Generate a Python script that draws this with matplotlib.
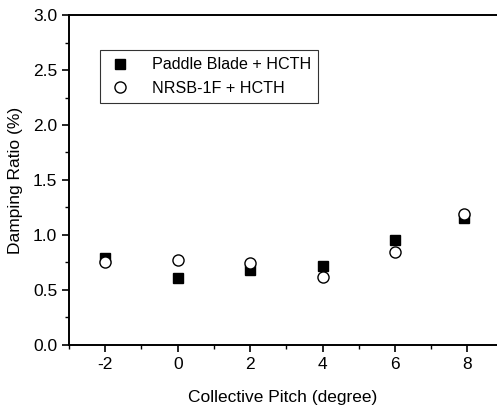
import matplotlib
matplotlib.use("Agg")
from matplotlib import pyplot as plt
from matplotlib.ticker import MultipleLocator

plt.rcParams['font.family'] = ['Liberation Sans', 'DejaVu Sans']
plt.rcParams['axes.unicode_minus'] = False

# collective pitch (degree)
pitch_paddle = [-2, 0, 2, 4, 6, 7.9]
pitch_nrsb = [-2, 0, 2, 4, 6, 7.9]
# damping ratio (%)
damp_paddle = [0.79, 0.61, 0.68, 0.72, 0.955, 1.15]
damp_nrsb = [0.75, 0.77, 0.74, 0.62, 0.84, 1.19]

labels = ["Paddle Blade + HCTH", "NRSB-1F + HCTH"]

fig = plt.figure(figsize=(4.97, 4.09), dpi=100)
ax = fig.add_axes([0.139, 0.157, 0.861, 0.806])

ax.plot(pitch_paddle, damp_paddle, ls='none', marker='s', ms=7.5,
        mfc='black', mec='black', label=labels[0])
ax.plot(pitch_nrsb, damp_nrsb, ls='none', marker='o', ms=8,
        mfc='white', mec='black', mew=1.0, label=labels[1])

ax.set_xlim(-3, 8.82)
ax.set_ylim(0, 3.0)
ax.xaxis.set_major_locator(MultipleLocator(2))
ax.xaxis.set_minor_locator(MultipleLocator(1))
ax.yaxis.set_minor_locator(MultipleLocator(0.25))
ax.set_yticks([0, 0.5, 1.0, 1.5, 2.0, 2.5, 3.0])
ax.set_yticklabels(["0.0", "0.5", "1.0", "1.5", "2.0", "2.5", "3.0"])

ax.spines['right'].set_visible(False)
for s in ['left', 'bottom', 'top']:
    ax.spines[s].set_linewidth(1.4)

ax.tick_params(which='major', direction='out', length=5, width=1.2,
               labelsize=12.5, top=False, right=False)
ax.tick_params(which='minor', direction='out', length=3, width=1.0,
               top=False, right=False)

ax.set_xlabel("Collective Pitch (degree)", fontsize=12.5, labelpad=13)
ax.set_ylabel("Damping Ratio (%)", fontsize=12.5, labelpad=7)

leg = ax.legend(loc='upper left', bbox_to_anchor=(100 / 497, 1 - 50 / 409),
                bbox_transform=fig.transFigure, fontsize=11.6, frameon=True,
                fancybox=False, borderpad=0.45, handletextpad=1.15,
                labelspacing=0.55, borderaxespad=0, handlelength=1.6)
leg.get_frame().set_edgecolor('black')
leg.get_frame().set_linewidth(0.8)

fig.savefig("out.png", dpi=100)
